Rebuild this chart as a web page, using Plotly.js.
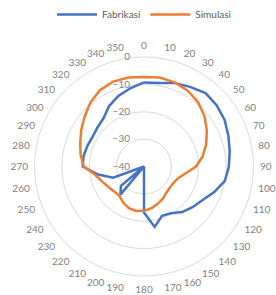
<!DOCTYPE html>
<html>
<head>
<meta charset="utf-8">
<script src="https://cdn.plot.ly/plotly-3.0.1.min.js"></script>
<style>html,body{margin:0;padding:0;background:#fff;}#chart{width:276px;height:295px;}</style>
</head>
<body>
<div id="chart"></div>
<script>
// Angles (degrees) of the radar categories
var angles = [0,10,20,30,40,50,60,70,80,90,100,110,120,130,140,150,160,170,180,190,200,210,220,230,240,250,260,270,280,290,300,310,320,330,340,350];
var angleLabels = angles.map(function(a){ return String(a); });

// Measured pattern (dB)
var fabrikasi = [-9.3,-9.0,-7.5,-6.4,-5.0,-5.3,-6.0,-7.2,-8.2,-9.0,-10.0,-12.7,-15.4,-16.9,-18.3,-20.3,-20.8,-17.6,-23.2,-40,-40,-40,-26.6,-29,-40,-28,-23,-17.6,-17.6,-18,-18.3,-17.8,-17,-14.5,-12.6,-11];
var simulasi = [-7.3,-7.0,-7.3,-8.0,-9.3,-11.2,-13.5,-15.8,-18.2,-21,-24.8,-27,-27.7,-27.8,-27.4,-26.3,-25.5,-24.5,-23.8,-23.5,-23.8,-24.8,-26,-25.8,-25,-23.8,-22,-18,-16.5,-15.2,-13.5,-11.7,-9.5,-7.8,-7,-7];

var radialTicks = [-40,-30,-20,-10,0];

function closed(arr){ return arr.concat([arr[0]]); }

var traces = [
  {type:'scatterpolar', mode:'lines', name:'Fabrikasi',
   r: closed(fabrikasi), theta: closed(angles),
   line:{color:'#4472C4', width:2.5}},
  {type:'scatterpolar', mode:'lines', name:'Simulasi',
   r: closed(simulasi), theta: closed(angles),
   line:{color:'#ED7D31', width:2.5}}
];

var layout = {
  width:276, height:295,
  margin:{l:34, r:22, t:57, b:19},
  paper_bgcolor:'#fff',
  font:{family:'Lato, "Open Sans", sans-serif', size:10, color:'#7f7f7f'},
  showlegend:true,
  legend:{orientation:'h', x:0.5, xanchor:'center', y:1, yref:'container', yanchor:'top',
          font:{size:10, color:'#595959'}, itemwidth:40, tracegroupgap:0},
  polar:{
    bgcolor:'#fff',
    angularaxis:{rotation:90, direction:'clockwise', tickmode:'array',
      tickvals:angles, ticktext:angleLabels,
      ticks:'outside', ticklen:4, tickcolor:'rgba(0,0,0,0)',
      showline:true, linecolor:'#d9d9d9', linewidth:1,
      showgrid:false, tickfont:{size:10, color:'#7f7f7f'}},
    radialaxis:{range:[-40,0], tickmode:'array', tickvals:radialTicks,
      angle:90, tickangle:90, side:'counterclockwise',
      showline:false, ticks:'outside', ticklen:10, tickcolor:'rgba(0,0,0,0)',
      gridcolor:'#d9d9d9', gridwidth:1,
      tickfont:{size:10, color:'#7f7f7f'}},
    layer:'below traces'
  }
};

Plotly.newPlot('chart', traces, layout, {displayModeBar:false, staticPlot:true});
</script>
</body>
</html>
